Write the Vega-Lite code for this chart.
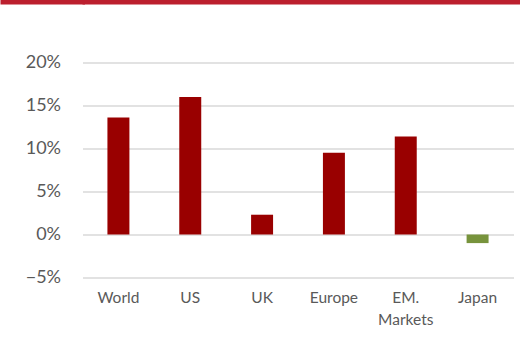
{
  "$schema": "https://vega.github.io/schema/vega-lite/v6.json",
  "padding": {"left": -1.5, "top": -2.5, "right": 0, "bottom": 0},
  "background": "white",
  "spacing": 47,
  "config": {"view": {"stroke": null}, "font": "Lato"},
  "vconcat": [
    {
      "width": 520,
      "height": 5,
      "view": {"fill": "#BC1F2E", "stroke": null},
      "data": {"values": [{"v": 0.5}]},
      "mark": {"type": "point", "opacity": 0, "size": 0},
      "encoding": {
        "y": {
          "field": "v",
          "type": "quantitative",
          "scale": {"domain": [0, 1], "nice": false},
          "axis": {
            "title": null,
            "values": [0.5],
            "labels": false,
            "domain": false,
            "grid": false,
            "ticks": true,
            "tickSize": 79.5,
            "tickWidth": 5,
            "tickColor": "#BC1F2E",
            "tickCap": "square",
            "tickRound": false,
            "translate": 0,
            "minExtent": 82,
            "maxExtent": 82
          }
        }
      }
    },
    {
      "width": 431,
      "height": 215,
      "data": {
        "values": [
          {"region": "World", "value": 0.136},
          {"region": "US", "value": 0.16},
          {"region": "UK", "value": 0.023},
          {"region": "Europe", "value": 0.095},
          {"region": "EM. Markets", "value": 0.114},
          {"region": "Japan", "value": -0.01}
        ]
      },
      "mark": {"type": "bar", "width": {"band": 0.306}},
      "encoding": {
        "x": {
          "field": "region",
          "type": "nominal",
          "sort": null,
          "scale": {"paddingInner": 0, "paddingOuter": 0},
          "axis": {
            "title": null,
            "labelAngle": 0,
            "ticks": false,
            "domain": false,
            "labelFont": "Lato",
            "labelFontSize": 15.5,
            "labelColor": "#595959",
            "labelPadding": 13,
            "labelLineHeight": 22,
            "labelExpr": "datum.value == 'EM. Markets' ? ['EM.', 'Markets'] : datum.label"
          }
        },
        "y": {
          "field": "value",
          "type": "quantitative",
          "scale": {"domain": [-0.05, 0.2], "nice": false},
          "axis": {
            "title": null,
            "format": ".0%",
            "values": [-0.05, 0, 0.05, 0.1, 0.15, 0.2],
            "ticks": false,
            "domain": false,
            "grid": true,
            "gridColor": "#D9D9D9",
            "gridWidth": 1.5,
            "labelFont": "Lato",
            "labelFontSize": 18,
            "labelColor": "#595959",
            "labelPadding": 22,
            "minExtent": 82,
            "maxExtent": 82
          }
        },
        "color": {
          "condition": {"test": "datum.value < 0", "value": "#77933C"},
          "value": "#990000"
        }
      }
    }
  ]
}
